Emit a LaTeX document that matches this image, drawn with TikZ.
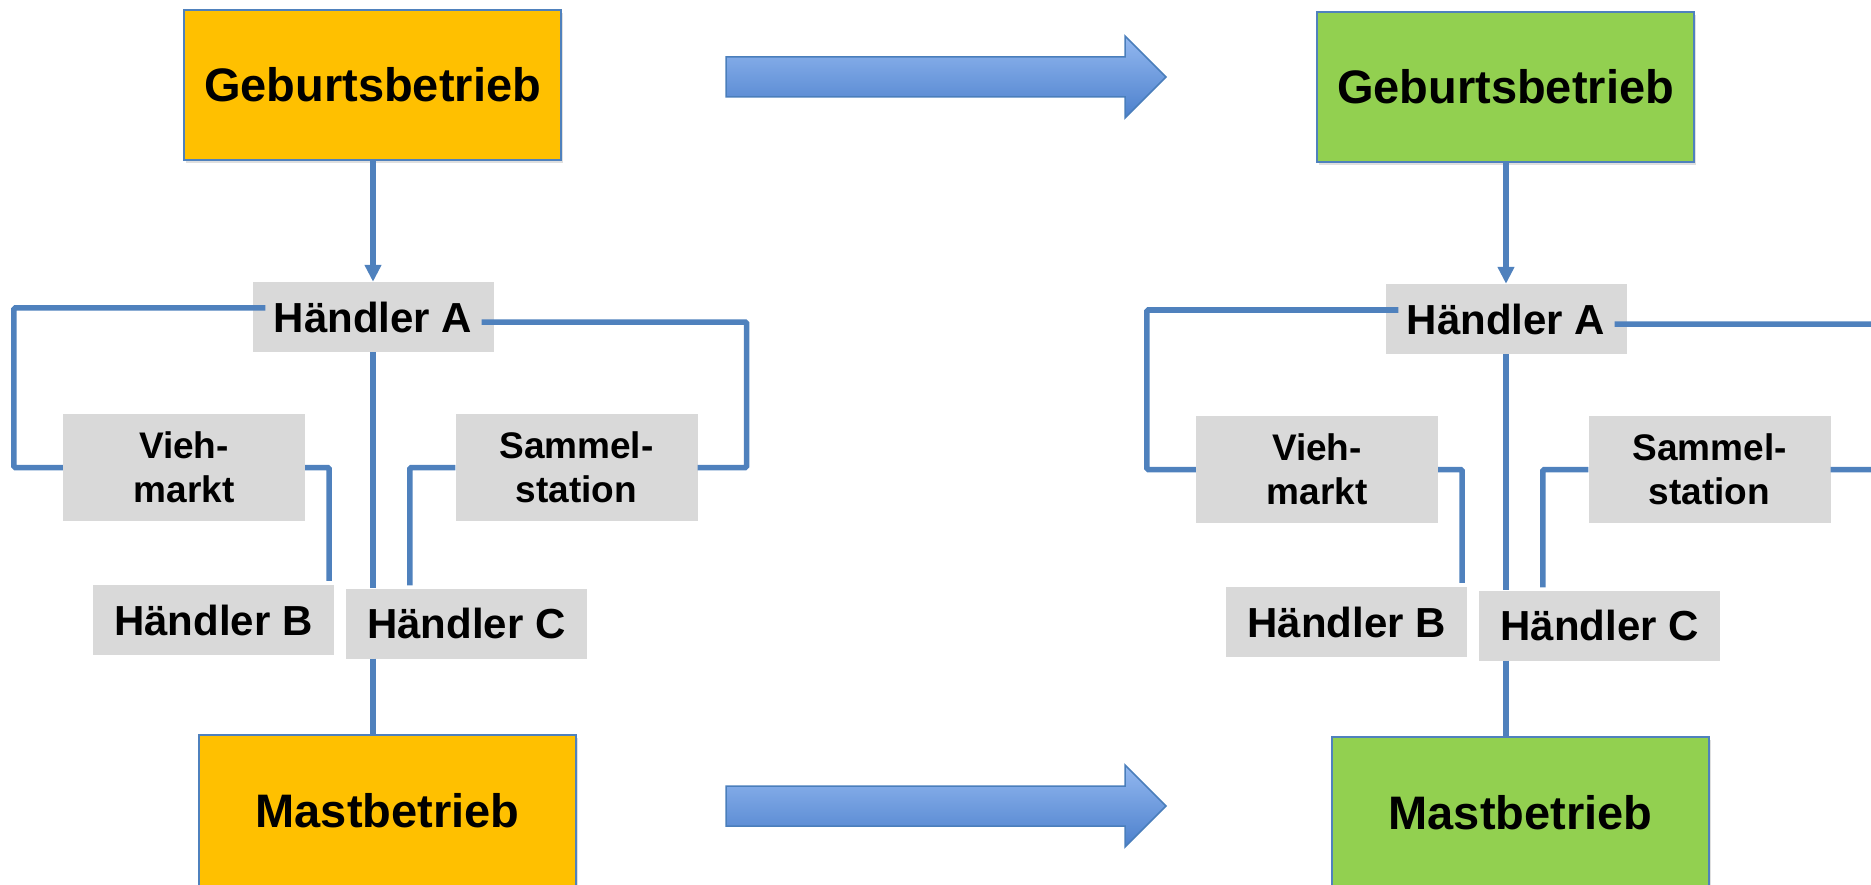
\documentclass[tikz,border=0pt]{standalone}
\usepackage{fontspec}
\setmainfont{Liberation Sans}
\usetikzlibrary{arrows.meta,shadows}
\definecolor{ILOrange}{HTML}{FFC000}
\definecolor{ILGreen}{HTML}{92D050}
\definecolor{ILGray}{HTML}{D9D9D9}
\definecolor{ILBlue}{HTML}{4F81BD}
\definecolor{ILArrowTop}{HTML}{93B8F0}
\definecolor{ILArrowBot}{HTML}{4C80CC}
\definecolor{ILArrowLine}{HTML}{4A7EBB}
\tikzset{
  ilfarm/.style={
    draw=ILBlue,
    line width=2.5pt,
    minimum width=377pt,
    minimum height=150pt,
    inner sep=0pt,
    drop shadow={opacity=0.25,shadow xshift=2pt,shadow yshift=-3pt},
    font=\bfseries\fontsize{47}{56}\selectfont
  },
  iltrader/.style={
    fill=ILGray,
    minimum width=241pt,
    minimum height=70pt,
    inner sep=0pt,
    font=\bfseries\fontsize{42}{50}\selectfont
  },
  ilhub/.style={
    fill=ILGray,
    minimum width=242pt,
    minimum height=107pt,
    inner sep=0pt,
    align=center,
    font=\bfseries\fontsize{37}{44}\selectfont
  },
  illink/.style={draw=ILBlue,line width=5.5pt,rounded corners=1.5pt},
  ilfeed/.style={illink,-{Triangle[length=17pt,width=16pt]}},
  ilshift/.style={draw=ILArrowLine,line width=1.5pt,top color=ILArrowTop,bottom color=ILArrowBot}
}

\begin{document}
\begin{tikzpicture}[x=1pt,y=-1pt]
  \useasboundingbox (0,0) rectangle (1871,885);
  \clip (0,0) rectangle (1871,885);

  % left chain
  \node[ilfarm,fill=ILOrange] (gebL) at (372.5,85) {Geburtsbetrieb};
  \node[iltrader] (haL) at (373,317) {Händler A};
  \node[ilhub] (viehL) at (184,467.5) {Vieh-\\markt};
  \node[ilhub] (samL) at (576.5,467.5) {Sammel-\\station};
  \node[iltrader] (hbL) at (213.5,620) {Händler B};
  \node[iltrader] (hcL) at (466.5,623.5) {Händler C};
  \node[ilfarm,fill=ILOrange,minimum height=152pt] (mastL) at (387.5,811) {Mastbetrieb};

  \draw[ilfeed] (gebL.south -| haL.north) -- (haL.north);
  \draw[illink] ([xshift=13pt,yshift=9pt]haL.west) -| ([xshift=-49pt]viehL.west) -- (viehL.west);
  \draw[illink] ([xshift=-12pt,yshift=-5pt]haL.east) -| ([xshift=49pt]samL.east) -- (samL.east);
  \draw[illink] (viehL.east) -| ([xshift=-5pt,yshift=4pt]hbL.north east);
  \draw[illink] (samL.west) -| ([xshift=64pt,yshift=3pt]hcL.north west);
  \draw[illink] (haL.south) -- (haL.south |- hcL.north);
  \draw[illink] (haL.south |- hcL.south) -- (haL.south |- mastL.north);

  % right chain
  \node[ilfarm,fill=ILGreen] (gebR) at (1505.5,87) {Geburtsbetrieb};
  \node[iltrader] (haR) at (1506,319) {Händler A};
  \node[ilhub] (viehR) at (1317,469.5) {Vieh-\\markt};
  \node[ilhub] (samR) at (1709.5,469.5) {Sammel-\\station};
  \node[iltrader] (hbR) at (1346.5,622) {Händler B};
  \node[iltrader] (hcR) at (1599.5,625.5) {Händler C};
  \node[ilfarm,fill=ILGreen,minimum height=152pt] (mastR) at (1520.5,813) {Mastbetrieb};

  \draw[ilfeed] (gebR.south -| haR.north) -- (haR.north);
  \draw[illink] ([xshift=13pt,yshift=9pt]haR.west) -| ([xshift=-49pt]viehR.west) -- (viehR.west);
  \draw[illink] ([xshift=-12pt,yshift=-5pt]haR.east) -| ([xshift=49pt]samR.east) -- (samR.east);
  \draw[illink] (viehR.east) -| ([xshift=-5pt,yshift=4pt]hbR.north east);
  \draw[illink] (samR.west) -| ([xshift=64pt,yshift=3pt]hcR.north west);
  \draw[illink] (haR.south) -- (haR.south |- hcR.north);
  \draw[illink] (haR.south |- hcR.south) -- (haR.south |- mastR.north);

  % big arrows
  \draw[ilshift] (726,57) -- (1125,57) -- (1125,36) -- (1166,77) -- (1125,118) -- (1125,97) -- (726,97) -- cycle;
  \draw[ilshift] (726,786) -- (1125,786) -- (1125,765) -- (1166,806) -- (1125,847) -- (1125,826) -- (726,826) -- cycle;
\end{tikzpicture}
\end{document}
